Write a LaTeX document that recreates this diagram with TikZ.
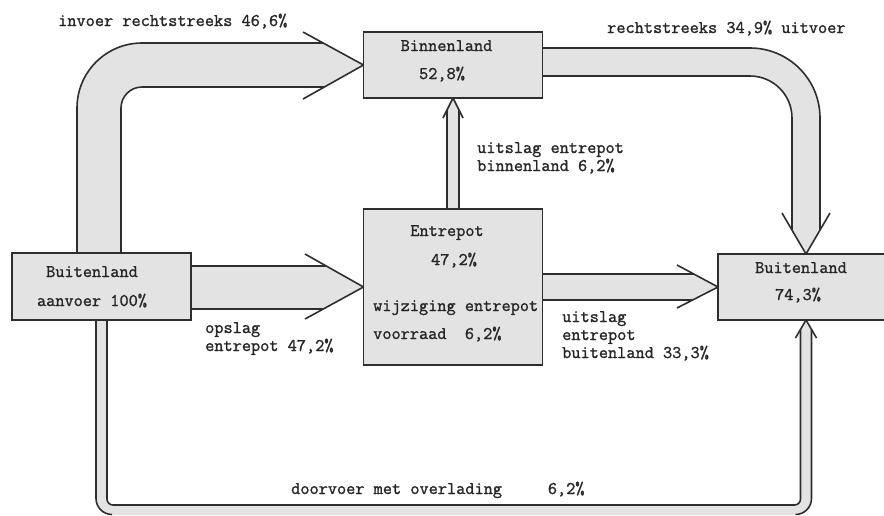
\documentclass[tikz,border=0pt]{standalone}
\usepackage{fontspec}
\newfontfamily\twfont[FakeBold=1.3]{Latin Modern Mono}
\usetikzlibrary{calc,backgrounds}
\definecolor{ln}{HTML}{2E2E2E}
\definecolor{fl}{HTML}{E3E3E3}
\definecolor{tx}{HTML}{262626}
\begin{document}
\begin{tikzpicture}[x=1pt,y=-1pt,
  box/.style={draw=ln,fill=fl,line width=1.6pt,inner sep=0pt,outer sep=0pt,rectangle},
  edge/.style={draw=ln,line width=1.6pt,line join=miter},
  lbl/.style={font=\twfont\fontsize{17.8pt}{20pt}\selectfont,text=tx,inner sep=0pt,anchor=base west},
  ctr/.style={font=\twfont\fontsize{17.8pt}{20pt}\selectfont,text=tx,inner sep=0pt,anchor=base}]
\useasboundingbox (0,0) rectangle (884,515);
\clip (0,0) rectangle (884,515);
% boxes
\node[box,minimum width=179pt,minimum height=67pt] (buL) at (101.5,286.5) {};
\node[box,minimum width=179pt,minimum height=66pt] (bin) at (453,65) {};
\node[box,minimum width=179pt,minimum height=156pt] (ent) at (453,287) {};
\node[box,minimum width=176pt,minimum height=66pt] (buR) at (806,287) {};
% box texts
\node[ctr] (t1) at (92,277) {Buitenland};
\node[ctr] (t2) at (92,306) {aanvoer 100\%};
\node[ctr] (t3) at (446.5,51) {Binnenland};
\node[ctr] (t4) at (442,79) {52,8\%};
\node[ctr] (t5) at (447,236) {Entrepot};
\node[ctr] (t6) at (454,265) {47,2\%};
\node[lbl] (t7) at (373,311) {wijziging entrepot};
\node[lbl] (t8) at (373,339) {voorraad~~6,2\%};
\node[ctr] (t9) at (801,273) {Buitenland};
\node[ctr] (t10) at (798,300) {74,3\%};
% flow labels
\node[lbl] (l1) at (58,26) {invoer rechtstreeks 46,6\%};
\node[lbl] (l2) at (607,33) {rechtstreeks 34,9\% uitvoer};
\node[lbl] (l3) at (477,153) {uitslag entrepot};
\node[lbl] (l4) at (477,171) {binnenland 6,2\%};
\node[lbl] (l5) at (205,333) {opslag};
\node[lbl] (l6) at (205,351) {entrepot 47,2\%};
\node[lbl] (l7) at (562,322) {uitslag};
\node[lbl] (l8) at (562,340) {entrepot};
\node[lbl] (l9) at (562,358) {buitenland 33,3\%};
\node[lbl] (l10) at (291,494) {doorvoer met overlading~~~~~6,2\%};
\begin{pgfonlayer}{background}
\fill[white] (0,0) rectangle (884,515);
% invoer rechtstreeks
\fill[fl] (77,253) -- (77,108) .. controls (77,72.1) and (106.1,43) .. (142,43) -- (323,43) -- (bin.west) -- (324.2,87) -- (142,87) .. controls (130.4,87) and (121,96.4) .. (121,108) -- (121,253) -- cycle;
\draw[edge] (77,253) -- (77,108) .. controls (77,72.1) and (106.1,43) .. (142,43) -- (323,43);
\draw[edge] (121,253) -- (121,108) .. controls (121,96.4) and (130.4,87) .. (142,87) -- (324.2,87);
\draw[edge] (303,32) -- (bin.west) -- (303,99);
% rechtstreeks uitvoer
\fill[fl] (542.5,48) -- (750,48) .. controls (788.7,48) and (820,79.3) .. (820,118) -- (820,230.1) -- (buR.north) -- (792,230.1) -- (792,118) .. controls (792,94.8) and (773.2,76) .. (750,76) -- (542.5,76) -- cycle;
\draw[edge] (542.5,48) -- (750,48) .. controls (788.7,48) and (820,79.3) .. (820,118) -- (820,230.1);
\draw[edge] (542.5,76) -- (750,76) .. controls (773.2,76) and (792,94.8) .. (792,118) -- (792,230.1);
\draw[edge] (782,213) -- (buR.north) -- (830,213);
% uitslag entrepot binnenland
\fill[fl] (447,209) -- (447,110) -- (bin.south) -- (459,110) -- (459,209) -- cycle;
\draw[edge] (447,209) -- (447,110);
\draw[edge] (459,209) -- (459,110);
\draw[edge] (443,118) -- (bin.south) -- (463,118);
% opslag entrepot
\fill[fl] (191,266) -- (326.1,266) -- (ent.west) -- (323.1,309) -- (191,309) -- cycle;
\draw[edge] (191,266) -- (326.1,266);
\draw[edge] (191,309) -- (323.1,309);
\draw[edge] (305,254) -- (ent.west) -- (305,319);
% uitslag entrepot buitenland
\fill[fl] (542.5,274) -- (693.8,274) -- (buR.west) -- (692.6,300) -- (542.5,300) -- cycle;
\draw[edge] (542.5,274) -- (693.8,274);
\draw[edge] (542.5,300) -- (692.6,300);
\draw[edge] (677,265) -- (buR.west) -- (677,308);
% doorvoer (outer bottom edge runs off the picture)
\fill[fl] (96,320) -- (96,498.5) .. controls (96,507.3) and (103.2,514.5) .. (112,514.5) -- (112,515) -- (795.5,515) -- (795.5,514.5) .. controls (804.3,514.5) and (811.5,507.3) .. (811.5,498.5) -- (811.5,329.4) -- (buR.south) -- (800.5,329.4) -- (800.5,499) .. controls (800.5,502.3) and (797.8,505) .. (794.5,505) -- (113,505) .. controls (109.7,505) and (107,502.3) .. (107,499) -- (107,320) -- cycle;
\draw[edge] (96,320) -- (96,498.5) .. controls (96,507.3) and (103.2,514.5) .. (112,514.5);
\draw[edge] (795.5,514.5) .. controls (804.3,514.5) and (811.5,507.3) .. (811.5,498.5) -- (811.5,329.4);
\draw[edge] (107,320) -- (107,499) .. controls (107,502.3) and (109.7,505) .. (113,505) -- (794.5,505) .. controls (797.8,505) and (800.5,502.3) .. (800.5,499) -- (800.5,329.4);
\draw[edge] (795.5,338) -- (buR.south) -- (816.5,338);
\end{pgfonlayer}
\end{tikzpicture}
\end{document}
